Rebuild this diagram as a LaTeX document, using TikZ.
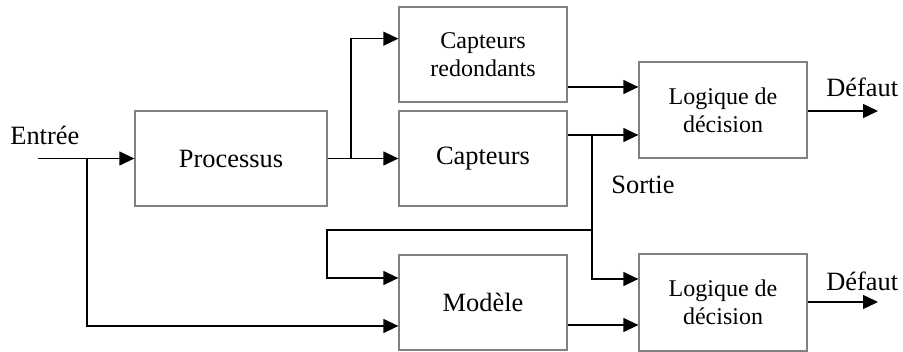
\documentclass[tikz,border=0pt]{standalone}
\usepackage{fontspec}
\setmainfont{Liberation Serif}
\usepackage{tikz}
\usetikzlibrary{arrows.meta}

\begin{document}
\begin{tikzpicture}[x=0.5pt,y=0.5pt,yscale=-1,xscale=1,
  bloc/.style={draw={rgb,255:red,128;green,128;blue,128},line width=0.65pt,minimum height=47.5pt,inner sep=0pt,align=center},
  grand/.style={font=\fontsize{13.2}{15.5}\selectfont},
  petit/.style={font=\fontsize{12}{14}\selectfont},
  flow/.style={line width=0.65pt,-{Triangle[length=7.5pt,width=7pt]}},
  lbl/.style={font=\fontsize{13.2}{15.5}\selectfont,inner sep=0pt,anchor=base west}]
\useasboundingbox (0,0) rectangle (903,352);
% blocs
\node[bloc,grand,minimum width=96pt] (proc) at (231,158.5) {Processus};
\node[bloc,petit,minimum width=84pt] (red) at (483,54.5) {Capteurs\\redondants};
\node[bloc,grand,minimum width=84pt] (capt) at (483,158.5) {Capteurs};
\node[bloc,grand,minimum width=84pt] (mod) at (483,302.5) {Modèle};
\node[bloc,petit,minimum width=84pt,minimum height=48pt] (log1) at (723,110) {Logique de\\décision};
\node[bloc,petit,minimum width=84pt,minimum height=48.5pt] (log2) at (723,302.5) {Logique de\\décision};
% textes
\node[lbl] (entree) at (10,145) {Entrée};
\node[lbl] (sortie) at (611,193) {Sortie};
\node[lbl] (def1) at (826,97) {Défaut};
\node[lbl] (def2) at (826,290) {Défaut};
% points
\coordinate (in) at (38,158.5);
\coordinate (b0) at (87,158.5);
\coordinate (b1) at (351,158.5);
\coordinate (b2) at (592,135);
\coordinate (b3) at (592,230);
\coordinate (b4) at (327,278);
\coordinate (d1) at (878,111);
\coordinate (d2) at (878,302);
% liaisons
\draw[flow] (in) -- (proc);
\draw[flow] (proc) -- (capt);
\draw[flow] (b1) |- (red.west |- 0,38.7);
\draw[flow] (red.east |- 0,87) -- (log1.west |- 0,87);
\draw[flow] (capt.east |- 0,135) -- (log1.west |- 0,135);
\draw[flow] (b2) |- (log2.west |- 0,279);
\draw[flow] (b3) -| (b4) -- (mod.west |- b4);
\draw[flow] (b0) |- (mod.west |- 0,326);
\draw[flow] (mod.east |- 0,325) -- (log2.west |- 0,325);
\draw[flow] (log1.east |- d1) -- (d1);
\draw[flow] (log2.east |- d2) -- (d2);
\end{tikzpicture}
\end{document}
